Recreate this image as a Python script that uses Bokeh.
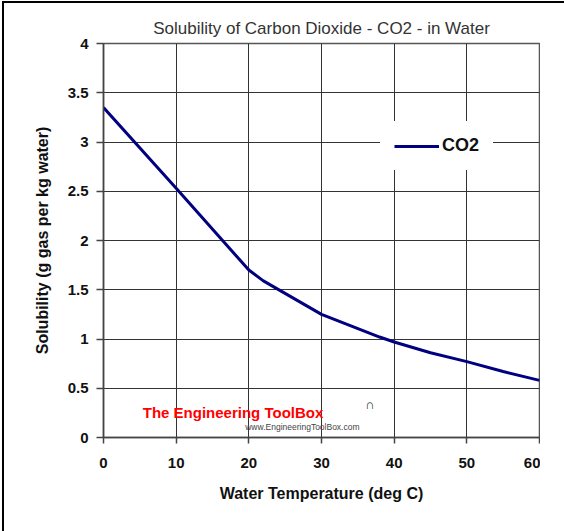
from bokeh.plotting import figure
from bokeh.models import Legend, LegendItem, Label, FixedTicker
from bokeh.embed import file_html
from bokeh.resources import INLINE

# Data
temperature = [0, 10, 20, 22, 30, 38, 40, 45, 50, 55, 60]
solubility = [3.35, 2.53, 1.70, 1.59, 1.25, 1.02, 0.97, 0.86, 0.77, 0.67, 0.58]
x_ticks = [0, 10, 20, 30, 40, 50, 60]
y_ticks = [0, 0.5, 1, 1.5, 2, 2.5, 3, 3.5, 4]
series_name = "CO2"
title_text = "Solubility of Carbon Dioxide - CO2 - in Water"
x_label = "Water Temperature (deg C)"
y_label = "Solubility (g gas per kg water)"

FONT = "Liberation Sans"

p = figure(
    frame_width=436, frame_height=394,
    x_range=(0, 60), y_range=(0, 4),
    output_backend="svg", toolbar_location=None,
    min_border_left=99, min_border_top=40, min_border_right=1, min_border_bottom=70,
    title=title_text,
    styles={"border-left": "2px solid black", "border-top": "2px solid black",
            "margin-left": "2px", "margin-top": "1px"},
    sizing_mode="fixed",
)
p.title.align = "center"
p.title.text_font = FONT
p.title.text_font_style = "normal"
p.title.text_font_size = "17px"
p.title.text_color = "#333333"
p.title.standoff = 12

p.xaxis.ticker = FixedTicker(ticks=x_ticks)
p.yaxis.ticker = FixedTicker(ticks=y_ticks)
p.yaxis.major_label_overrides = {v: ("%g" % v) for v in y_ticks}
p.xaxis.axis_label = x_label
p.yaxis.axis_label = y_label
for ax in (p.xaxis[0], p.yaxis[0]):
    ax.axis_label_text_font = FONT
    ax.axis_label_text_font_style = "bold"
    ax.axis_label_text_font_size = "16px"
    ax.axis_label_text_color = "#111111"
    ax.major_label_text_font = FONT
    ax.major_label_text_font_style = "bold"
    ax.major_label_text_font_size = "15px"
    ax.major_label_text_color = "#111111"
    ax.axis_line_color = "#444444"
    ax.axis_line_width = 1.5
    ax.major_tick_line_color = "#444444"
    ax.major_tick_line_width = 1.5
    ax.major_tick_in = 0
    ax.minor_tick_in = 0
    ax.minor_tick_out = 0
p.xaxis.major_tick_out = 6
p.yaxis.major_tick_out = 7
p.xaxis.major_label_standoff = 14
p.yaxis.major_label_standoff = 8
p.xaxis.axis_label_standoff = 14
p.yaxis.axis_label_standoff = 14

p.xgrid.grid_line_color = "#333333"
p.ygrid.grid_line_color = "#333333"
p.xgrid.grid_line_width = 1
p.ygrid.grid_line_width = 1
p.outline_line_color = "#555555"
p.outline_line_width = 1.5
p.background_fill_color = "white"
p.border_fill_color = "white"

r = p.line(temperature, solubility, line_color="#000080", line_width=3)

legend = Legend(
    items=[LegendItem(label=series_name, renderers=[r])],
    location=(277, 267),
    label_text_font=FONT, label_text_font_style="bold", label_text_font_size="18px",
    label_text_color="#111111",
    glyph_width=45, label_standoff=3, padding=14, margin=0,
    border_line_alpha=0, background_fill_color="white", background_fill_alpha=1,
)
p.add_layout(legend, "center")

p.add_layout(Label(x=5.4, y=0.17, text="The Engineering ToolBox",
                   text_font=FONT,
                   text_font_style="bold", text_font_size="15px", text_color="#ff0000"))
p.add_layout(Label(x=19.5, y=0.06, text="www.EngineeringToolBox.com",
                   text_font=FONT, text_font_size="8.5px", text_color="#444444"))
p.add_layout(Label(x=36.0, y=0.26, text="∩",
                   text_font=FONT, text_font_size="13px", text_color="#333333"))

open("out.html", "w").write(file_html(p, INLINE))
